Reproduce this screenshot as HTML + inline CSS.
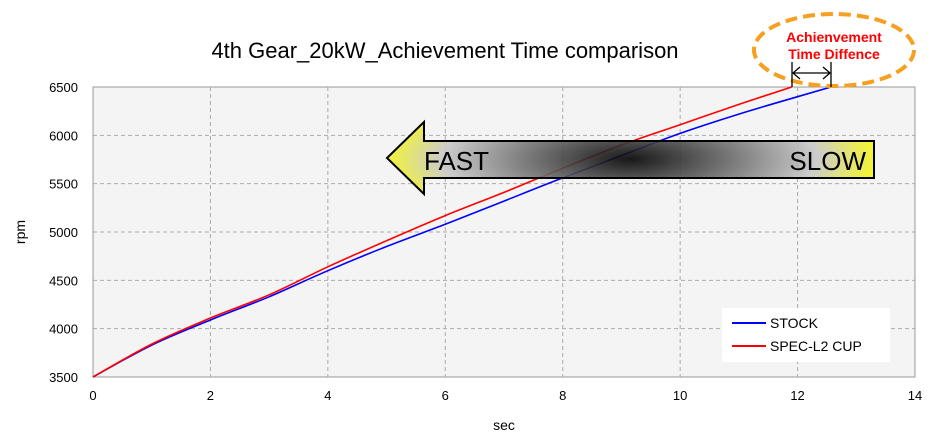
<!DOCTYPE html>
<html><head><meta charset="utf-8"><style>
body{margin:0;background:#fff;}
svg{display:block;font-family:"Liberation Sans","DejaVu Sans",sans-serif;}
</style></head><body>
<svg id="chart" width="940" height="443" viewBox="0 0 940 443">
<defs>
<radialGradient id="shaftGrad" cx="630" cy="159" r="250" gradientUnits="userSpaceOnUse" gradientTransform="translate(630 159) scale(1 0.3) translate(-630 -159)">
<stop offset="0" stop-color="#000"/>
<stop offset="0.45" stop-color="#777"/>
<stop offset="0.75" stop-color="#c8c8c8"/>
<stop offset="1" stop-color="#f8f810"/>
</radialGradient>
</defs>
<text x="445" y="58" font-size="22" text-anchor="middle" fill="#000">4th Gear_20kW_Achievement Time comparison</text>
<rect x="93" y="87" width="822" height="290" fill="#f4f4f4" stroke="#999"/>
<g id="grid"></g>
<g id="xticks" font-size="13" fill="#000"></g>
<g id="yticks" font-size="13" fill="#000"></g>
<text x="504" y="430" font-size="14" text-anchor="middle">sec</text>
<text x="25" y="232" font-size="14" text-anchor="middle" transform="rotate(-90 25 232)">rpm</text>
<g id="series"></g>
<g>
<path d="M387 158 L424 122 L424 141 L874 141 L874 178 L424 178 L424 194 Z" fill="url(#shaftGrad)" fill-opacity="0.9" stroke="#000" stroke-width="2"/>
<text x="424" y="170" font-size="26" fill="#000">FAST</text>
<text x="866" y="170" font-size="26" fill="#000" text-anchor="end">SLOW</text>
</g>
<rect x="722" y="308" width="168" height="54" fill="#fff"/>
<line x1="732" y1="323" x2="766" y2="323" stroke="#00f" stroke-width="2"/>
<text x="770" y="328" font-size="14">STOCK</text>
<line x1="732" y1="346" x2="766" y2="346" stroke="#f00" stroke-width="2"/>
<text x="770" y="351" font-size="14">SPEC-L2 CUP</text>
<ellipse cx="834" cy="50" rx="80" ry="36" fill="none" stroke="#f5a020" stroke-width="4" stroke-dasharray="12 6"/>
<text x="834" y="42" font-size="14" font-weight="bold" fill="#f00" text-anchor="middle">Achienvement</text>
<text x="834" y="59" font-size="14" font-weight="bold" fill="#f00" text-anchor="middle">Time Diffence</text>
<g stroke="#000" stroke-width="1.3" fill="none">
<line x1="792" y1="62" x2="792" y2="87"/><line x1="831" y1="62" x2="831" y2="87"/>
<line x1="793" y1="73" x2="830" y2="73"/>
<path d="M800 67 L793 73 L800 79"/><path d="M823 67 L830 73 L823 79"/>
</g>
</svg>
<script>
const xTicks=[0,2,4,6,8,10,12,14];
const yTicks=[3500,4000,4500,5000,5500,6000,6500];
const stockX=[0,1,2,3,4,5,6,7,8,9,10,11,12,12.57];
const stockY=[3500,3830,4090,4330,4600,4850,5080,5320,5560,5790,6020,6220,6400,6500];
const specX=[0,1,2,3,4,5,6,7,8,9,10,11,11.9];
const specY=[3500,3840,4110,4350,4640,4910,5170,5410,5660,5900,6110,6320,6500];
const NS="http://www.w3.org/2000/svg";
const sx=v=>93+v*(822/14);
const sy=v=>377-(v-3500)*(290/3000);
function mk(t,a,p){const e=document.createElementNS(NS,t);for(const k in a)e.setAttribute(k,a[k]);p.appendChild(e);return e;}
const grid=document.getElementById('grid'),xt=document.getElementById('xticks'),yt=document.getElementById('yticks'),ser=document.getElementById('series');
xTicks.forEach(v=>{
 if(v>0&&v<14){const l=mk('line',{x1:sx(v),x2:sx(v),y1:87,y2:377,stroke:'#aaa','stroke-dasharray':'4 3'},grid);
 
 }
 const t=mk('text',{x:sx(v),y:400,'text-anchor':'middle'},xt);t.textContent=v;
 
 
});
yTicks.forEach(v=>{
 if(v>3500&&v<6500){const l=mk('line',{x1:93,x2:915,y1:sy(v),y2:sy(v),stroke:'#aaa','stroke-dasharray':'4 3'},grid);
 
 }
 const t=mk('text',{x:78,y:sy(v)+5,'text-anchor':'end'},yt);t.textContent=v;
 
 
});
function line(xs,ys,c,n){
 const P=xs.map((x,i)=>[sx(x),sy(ys[i])]);
 let d='M'+P[0][0].toFixed(1)+' '+P[0][1].toFixed(1);
 for(let i=0;i<P.length-1;i++){
  const p0=P[Math.max(0,i-1)],p1=P[i],p2=P[i+1],p3=P[Math.min(P.length-1,i+2)];
  const c1=[p1[0]+(p2[0]-p0[0])/6,p1[1]+(p2[1]-p0[1])/6];
  const c2=[p2[0]-(p3[0]-p1[0])/6,p2[1]-(p3[1]-p1[1])/6];
  d+=' C'+c1[0].toFixed(1)+' '+c1[1].toFixed(1)+' '+c2[0].toFixed(1)+' '+c2[1].toFixed(1)+' '+p2[0].toFixed(1)+' '+p2[1].toFixed(1);
 }
 const p=mk('path',{d:d,fill:'none',stroke:c,'stroke-width':1.6},ser);
 
 
}
line(stockX,stockY,'#0000ff','stock-line');
line(specX,specY,'#ff0000','spec-l2-cup-line');
</script>
</body></html>
